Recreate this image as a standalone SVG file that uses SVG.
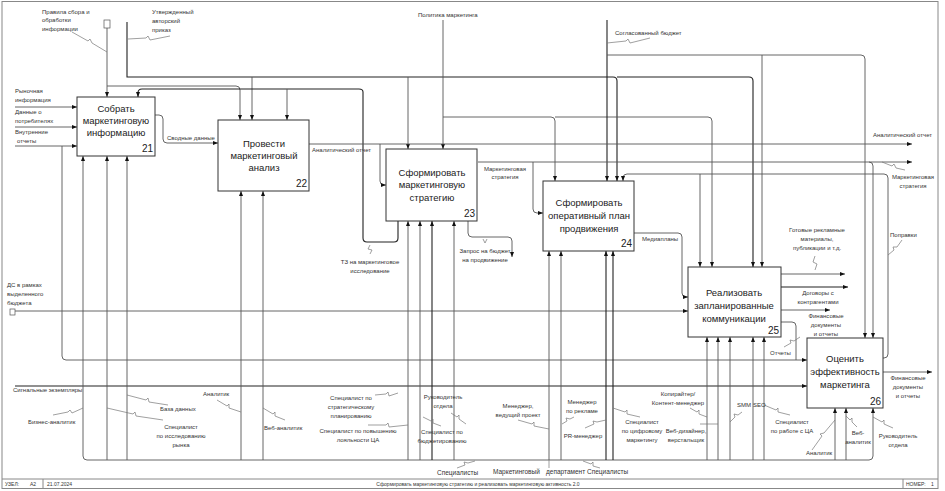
<svg xmlns="http://www.w3.org/2000/svg" width="945" height="491" viewBox="0 0 945 491">
<defs>
<marker id="a" markerWidth="5" markerHeight="4" refX="5" refY="2" orient="auto" markerUnits="userSpaceOnUse"><path d="M0,0 L5,2 L0,4 z" fill="#111"/></marker>
<style>
.n{fill:#fff;stroke:#333;stroke-width:1}
.t{font-family:"Liberation Sans",Arial,sans-serif;font-size:9.5px;fill:#222;text-anchor:middle}
.num{font-family:"Liberation Sans",Arial,sans-serif;font-size:10px;fill:#222;text-anchor:end}
.c{fill:none;stroke:#555;stroke-width:0.9}
.d{fill:none;stroke:#222;stroke-width:1.1}
.ar{marker-end:url(#a)}
.sq{fill:none;stroke:#777;stroke-width:0.7}
.l{font-family:"Liberation Sans",Arial,sans-serif;font-size:6px;fill:#333}
.lm{font-family:"Liberation Sans",Arial,sans-serif;font-size:6px;fill:#333;text-anchor:middle}
.lb{font-family:"Liberation Sans",Arial,sans-serif;font-size:6.5px;fill:#333}
.f{font-family:"Liberation Sans",Arial,sans-serif;font-size:5px;fill:#333}
.fr{fill:none;stroke:#888;stroke-width:1}
</style>
</defs>
<rect class="fr" x="2" y="1.5" width="936" height="487"/>
<line class="fr" x1="2" y1="479" x2="938" y2="479"/>
<line class="fr" x1="43" y1="479" x2="43" y2="488"/>
<line class="fr" x1="903" y1="479" x2="903" y2="488"/>
<text class="f" x="5" y="485.5">УЗЕЛ:</text>
<text class="f" x="30" y="485.5">A2</text>
<text class="f" x="47" y="485.5">21.07.2024</text>
<text class="f" x="478" y="485.5" text-anchor="middle">Сформировать маркетинговую стратегию и реализовать маркетинговую активность 2.0</text>
<text class="f" x="906" y="485.5">НОМЕР:</text>
<text class="f" x="931" y="485.5">1</text>

<g id="connectors">
<rect x="104" y="20" width="6" height="8" fill="#fff" stroke="#555" stroke-width="0.7"/>
<path class="c ar" d="M107,28 V97"/>
<path class="c ar" d="M107,86 H236 Q240,86 240,90 V120"/>
<path class="d ar" d="M127,22 V77 H613 Q617,77 617,81 V181"/>
<path class="d ar" d="M617,77 H749 Q753,77 753,81 V267"/>
<path class="c ar" d="M252,77 V120"/>
<path class="c ar" d="M408,77 V149"/>
<path class="d ar" d="M398,221 V238 Q398,242 394,242 H367 Q363,242 363,238 V92 Q363,89 359,89 H142 Q138,89 138,93 V97"/>
<path class="c ar" d="M287,89 V120"/>
<path class="c ar" d="M443,20 V149"/>
<path class="c ar" d="M443,117 H551 Q555,117 555,121 V181"/>
<path class="c ar" d="M555,117 H708 Q712,117 712,121 V267"/>
<path class="d ar" d="M607,20 V181"/>
<path class="c ar" d="M607,55 H861 Q865,55 865,59 V338"/>
<path class="c ar" d="M762,55 V267"/>
<path class="c ar" d="M883,358 H884 Q888,358 888,354 V178 Q888,174 884,174 H627 Q623,174 623,178 V181"/>
<path class="c ar" d="M700,174 V267"/>
<path class="c ar" d="M15,107 H77"/>
<path class="c ar" d="M15,127 H77"/>
<path class="c ar" d="M15,146 H77"/>
<path class="c ar" d="M62,146 V356 Q62,360 66,360 H807"/>
<path class="c ar" d="M155,115 H159 Q163,115 163,119 V139 Q163,143 167,143 H218"/>
<path class="c ar" d="M309,144 H912"/>
<path class="c ar" d="M380,144 V181 Q380,185 384,185 H386"/>
<path class="c ar" d="M478,162 H912"/>
<path class="c ar" d="M533,162 V209 Q533,213 537,213 H543"/>
<path class="c ar" d="M869,162 Q873,162 873,166 V338"/>
<path class="c ar" d="M468,221 V233 Q468,237 472,237 H508 Q512,237 512,241 V257"/>
<path class="c ar" d="M634,233 H678 Q682,233 682,237 V293 Q682,297 686,297 H688"/>
<rect x="10" y="309" width="5" height="6" fill="#fff" stroke="#555" stroke-width="0.7"/>
<path class="c ar" d="M15,311 H688"/>
<path class="c ar" d="M781,274 H845"/>
<path class="d ar" d="M781,287 H848"/>
<path class="c ar" d="M781,310 H830"/>
<path class="c" d="M781,322 H792 Q796,322 796,326 V360"/>
<path class="c ar" d="M883,372 H932"/>
<path class="d ar" d="M15,386 H807"/>
<path class="c" d="M87,460 H869"/>
<path class="c ar" d="M87,460 Q83,460 83,456 V156"/>
<path class="c ar" d="M107,460 V156"/>
<path class="c ar" d="M127,460 V156"/>
<path class="c ar" d="M241,460 V191"/>
<path class="c ar" d="M263,460 V191"/>
<path class="c ar" d="M408,460 V221"/>
<path class="c ar" d="M420,460 V221"/>
<path class="d ar" d="M432,460 V221"/>
<path class="c ar" d="M454,460 V221"/>
<path class="c ar" d="M549,460 V251"/>
<path class="c ar" d="M561,460 V251"/>
<path class="d ar" d="M606,460 V251"/>
<path class="d ar" d="M613,460 V251"/>
<path class="c ar" d="M707,460 V337"/>
<path class="c ar" d="M718,460 V337"/>
<path class="c ar" d="M730,460 V337"/>
<path class="c ar" d="M753,460 V337"/>
<path class="c ar" d="M764,460 V337"/>
<path class="c ar" d="M835,460 V408"/>
<path class="c ar" d="M846,460 V408"/>
<path class="c ar" d="M869,460 Q873,460 873,456 V408"/>
<path class="sq" d="M72,32 L88,41 L90,39 L92,43 L107,52"/>
<path class="sq" d="M128,39 L146,38 L148,36 L150,40 L170,36"/>
<path class="sq" d="M607,43 L626,41 L628,39 L630,43 L650,38"/>
<path class="sq" d="M370,245 L368,249 L372,250 L370,254"/>
<path class="sq" d="M483,239 L485,243 L487,239"/>
<path class="sq" d="M815,256 L813,262 L817,264 L815,270"/>
<path class="sq" d="M882,162 L892,166 L894,164 L896,168 L905,170"/>
<path class="sq" d="M888,255 L894,250 L893,247 L897,247 L902,240"/>
<path class="sq" d="M784,347 L791,343 L790,340 L794,341 L800,337"/>
<path class="sq" d="M53,415 L68,412 L70,410 L72,413 L83,408"/>
<path class="sq" d="M127,395 L146,400 L148,398 L149,402 L168,405"/>
<path class="sq" d="M107,408 L133,414 L135,412 L136,416 L163,420"/>
<path class="sq" d="M217,400 L227,406 L229,404 L229,408 L241,412"/>
<path class="sq" d="M263,408 L273,414 L275,412 L275,416 L285,420"/>
<path class="sq" d="M375,395 L386,394 L388,392 L389,396 L398,393"/>
<path class="sq" d="M368,425 L386,425 L388,423 L389,427 L408,425"/>
<path class="sq" d="M423,417 L431,421 L433,419 L433,423 L441,426"/>
<path class="sq" d="M451,413 L457,417 L459,415 L459,419 L466,424"/>
<path class="sq" d="M518,420 L532,424 L534,422 L534,426 L549,429"/>
<path class="sq" d="M562,424 L567,421 L566,418 L570,419 L574,417"/>
<path class="sq" d="M585,428 L594,424 L593,421 L597,422 L606,420"/>
<path class="sq" d="M613,408 L625,412 L627,410 L627,414 L640,417"/>
<path class="sq" d="M690,408 L697,412 L699,410 L699,414 L707,417"/>
<path class="sq" d="M700,424 L718,424"/>
<path class="sq" d="M730,422 L735,417 L734,414 L738,415 L742,412"/>
<path class="sq" d="M764,405 L776,410 L778,408 L778,412 L790,415"/>
<path class="sq" d="M812,450 L822,436 L820,434 L824,433 L835,420"/>
<path class="sq" d="M846,416 L850,420 L852,418 L852,422 L857,427"/>
<path class="sq" d="M873,417 L882,422 L884,420 L884,424 L893,428"/>
<path class="sq" d="M457,468 L465,465 L464,462 L468,463 L475,461"/>
<path class="sq" d="M549,460 L549,468"/>
<path class="sq" d="M583,461 L591,464 L593,462 L593,466 L600,468"/>
</g>

<g id="n21">
<rect class="n" x="77" y="97" width="78" height="59"/>
<text class="t" x="116" y="112">Собрать</text>
<text class="t" x="116" y="124">маркетинговую</text>
<text class="t" x="116" y="136">информацию</text>
<text class="num" x="153" y="152">21</text>
</g>
<g id="n22">
<rect class="n" x="218" y="120" width="91" height="71"/>
<text class="t" x="264" y="147">Провести</text>
<text class="t" x="264" y="159">маркетинговый</text>
<text class="t" x="264" y="171">анализ</text>
<text class="num" x="307" y="187">22</text>
</g>
<g id="n23">
<rect class="n" x="386" y="149" width="91" height="72"/>
<text class="t" x="432" y="176">Сформировать</text>
<text class="t" x="432" y="188">маркетинговую</text>
<text class="t" x="432" y="201">стратегию</text>
<text class="num" x="475" y="217">23</text>
</g>
<g id="n24">
<rect class="n" x="543" y="181" width="91" height="70"/>
<text class="t" x="589" y="206">Сформировать</text>
<text class="t" x="589" y="219">оперативный план</text>
<text class="t" x="589" y="232">продвижения</text>
<text class="num" x="632" y="247">24</text>
</g>
<g id="n25">
<rect class="n" x="688" y="267" width="93" height="70"/>
<text class="t" x="734" y="296">Реализовать</text>
<text class="t" x="734" y="309">запланированные</text>
<text class="t" x="734" y="322">коммуникации</text>
<text class="num" x="779" y="334">25</text>
</g>
<g id="n26">
<rect class="n" x="807" y="338" width="76" height="70"/>
<text class="t" x="845" y="362">Оценить</text>
<text class="t" x="845" y="375">эффективность</text>
<text class="t" x="845" y="388">маркетинга</text>
<text class="num" x="881" y="405">26</text>
</g>

<g id="labels">
<text class="l" x="42" y="14">Правила сбора и</text>
<text class="l" x="42" y="22">обработки</text>
<text class="l" x="42" y="31">информации</text>
<text class="l" x="152" y="14">Утвержденный</text>
<text class="l" x="152" y="23">авторский</text>
<text class="l" x="152" y="32">приказ</text>
<text class="l" x="418" y="17">Политика маркетинга</text>
<text class="l" x="615" y="35">Согласованный бюджет</text>
<text class="l" x="15" y="93">Рыночная</text>
<text class="l" x="15" y="102">информация</text>
<text class="l" x="15" y="114">Данные о</text>
<text class="l" x="15" y="123">потребителях</text>
<text class="l" x="15" y="134">Внутренние</text>
<text class="l" x="17" y="143">отчеты</text>
<text class="l" x="167" y="140">Сводные данные</text>
<text class="l" x="7" y="287">ДС в рамках</text>
<text class="l" x="7" y="296">выделенного</text>
<text class="l" x="7" y="305">бюджета</text>
<text class="l" x="312" y="152">Аналитический отчет</text>
<text class="lm" x="505" y="171">Маркетинговая</text>
<text class="lm" x="505" y="179">стратегия</text>
<text class="lm" x="370" y="264">ТЗ на маркетинговое</text>
<text class="lm" x="370" y="273">исследование</text>
<text class="lm" x="485" y="253">Запрос на бюджет</text>
<text class="lm" x="485" y="262">на продвижение</text>
<text class="l" x="642" y="241">Медиапланы</text>
<text class="lm" x="817" y="232">Готовые рекламные</text>
<text class="lm" x="817" y="241">материалы,</text>
<text class="lm" x="817" y="250">публикации и т.д.</text>
<text class="lm" x="818" y="295">Договоры с</text>
<text class="lm" x="818" y="304">контрагентами</text>
<text class="lm" x="826" y="318">Финансовые</text>
<text class="lm" x="826" y="327">документы</text>
<text class="lm" x="826" y="336">и отчеты</text>
<text class="l" x="770" y="355">Отчеты</text>
<text class="l" x="873" y="137">Аналитический отчет</text>
<text class="lm" x="913" y="179">Маркетинговая</text>
<text class="lm" x="913" y="188">стратегия</text>
<text class="l" x="890" y="237">Поправки</text>
<text class="lm" x="908" y="380">Финансовые</text>
<text class="lm" x="908" y="389">документы</text>
<text class="lm" x="908" y="398">и отчеты</text>
<text class="l" x="13" y="392">Сигнальные экземпляры</text>
<text class="l" x="28" y="424">Бизнес-аналитик</text>
<text class="l" x="160" y="411">База данных</text>
<text class="lm" x="181" y="429">Специалист</text>
<text class="lm" x="181" y="438">по исследованию</text>
<text class="lm" x="181" y="447">рынка</text>
<text class="l" x="203" y="396">Аналитик</text>
<text class="l" x="264" y="430">Веб-аналитик</text>
<text class="lm" x="351" y="400">Специалист по</text>
<text class="lm" x="351" y="409">стратегическому</text>
<text class="lm" x="351" y="418">планированию</text>
<text class="lm" x="358" y="433">Специалист по повышению</text>
<text class="lm" x="358" y="442">лояльности ЦА</text>
<text class="lm" x="443" y="399">Руководитель</text>
<text class="lm" x="443" y="408">отдела</text>
<text class="lm" x="442" y="434">Специалист по</text>
<text class="lm" x="442" y="443">бюджетированию</text>
<text class="lm" x="518" y="408">Менеджер,</text>
<text class="lm" x="518" y="417">ведущий проект</text>
<text class="lm" x="582" y="404">Менеджер</text>
<text class="lm" x="582" y="413">по рекламе</text>
<text class="lm" x="583" y="438">PR-менеджер</text>
<text class="lm" x="678" y="396">Копирайтер/</text>
<text class="lm" x="678" y="405">Контент-менеджер</text>
<text class="lm" x="642" y="424">Специалист</text>
<text class="lm" x="642" y="433">по цифровому</text>
<text class="lm" x="642" y="442">маркетингу</text>
<text class="lm" x="686" y="433">Веб-дизайнер,</text>
<text class="lm" x="686" y="442">верстальщик</text>
<text class="l" x="737" y="407">SMM</text>
<text class="l" x="753" y="407">SEO</text>
<text class="lm" x="792" y="424">Специалист</text>
<text class="lm" x="792" y="433">по работе с ЦА</text>
<text class="l" x="806" y="455">Аналитик</text>
<text class="lm" x="858" y="435">Веб-</text>
<text class="lm" x="858" y="444">аналитик</text>
<text class="lm" x="898" y="438">Руководитель</text>
<text class="lm" x="898" y="447">отдела</text>
<text class="lb" x="437" y="475">Специалисты</text>
<text class="lb" x="493" y="474">Маркетинговый</text>
<text class="lb" x="546" y="474">департамент</text>
<text class="lb" x="587" y="474">Специалисты</text>
</g>
</svg>
